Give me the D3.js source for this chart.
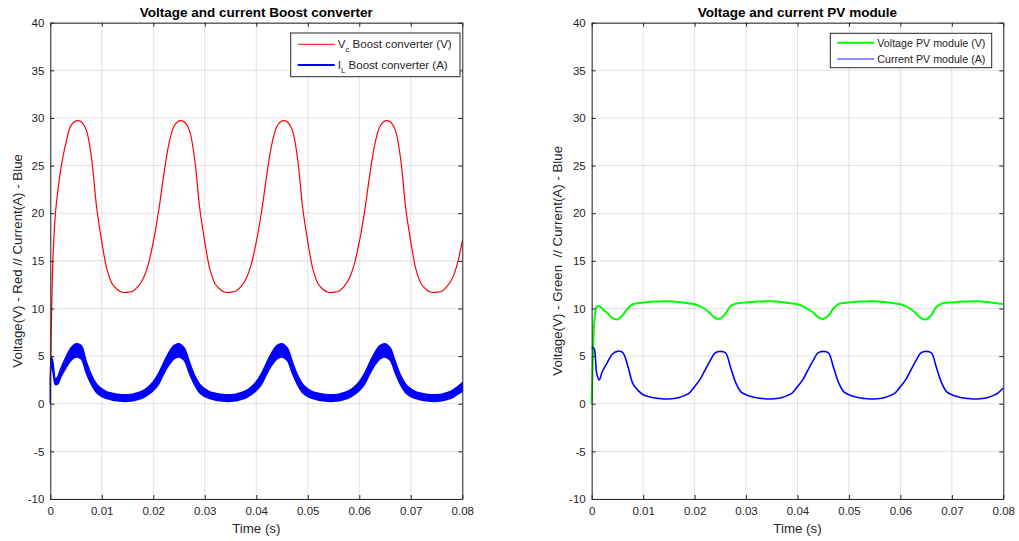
<!DOCTYPE html>
<html><head><meta charset="utf-8">
<script src="https://cdn.jsdelivr.net/npm/d3@7"></script>
<style>
body{margin:0;background:#fff;}
text{font-family:"Liberation Sans",Arial,Helvetica,sans-serif;}
</style></head><body>
<svg id="c" width="1019" height="541"></svg>
<script>
// ---- data ----
const time = [0,0.0002,0.0005,0.001,0.0015,0.002,0.003,0.004,0.005,0.006,0.007,0.008,0.009,
  0.010,0.011,0.012,0.013,0.014,0.015,0.016,0.017,0.018,0.019,
  0.020,0.021,0.022,0.023,0.024,0.025,0.026,0.027,0.028,0.029,
  0.030,0.031,0.032,0.033,0.034,0.035,0.036,0.037,0.038,0.039,
  0.040,0.041,0.042,0.043,0.044,0.045,0.046,0.047,0.048,0.049,
  0.050,0.051,0.052,0.053,0.054,0.055,0.056,0.057,0.058,0.059,
  0.060,0.061,0.062,0.063,0.064,0.065,0.066,0.067,0.068,0.069,
  0.070,0.071,0.072,0.073,0.074,0.075,0.076,0.077,0.078,0.079,
  0.080];

// Boost converter capacitor voltage Vc (V)
const vcBoost = [2,8,15,20,22.5,24.5,27.3,29.2,29.7,29.6,28.7,25.8,20.6,
  17.0,14.1,12.6,12.0,11.7,11.7,11.8,12.3,13.1,14.6,
  17.0,20.1,23.9,27.2,29.1,29.7,29.6,28.7,25.8,20.6,
  17.0,14.1,12.6,12.0,11.7,11.7,11.8,12.3,13.1,14.6,
  17.0,20.1,23.9,27.2,29.1,29.7,29.6,28.7,25.8,20.6,
  17.0,14.1,12.6,12.0,11.7,11.7,11.8,12.3,13.1,14.6,
  17.0,20.1,23.9,27.2,29.1,29.7,29.6,28.7,25.8,20.6,
  17.0,14.1,12.6,12.0,11.7,11.7,11.8,12.3,13.1,14.6,
  17.1];

// Boost converter inductor current IL (A), centre of the ripple band
const ilBoost = [0,4.4,3.9,2.3,2.5,3.2,4.3,5.2,5.6,5.4,3.8,2.5,1.6,
  1.15,0.9,0.75,0.65,0.6,0.6,0.65,0.8,1.0,1.35,
  1.85,2.6,3.7,4.7,5.4,5.6,5.2,3.8,2.5,1.6,
  1.15,0.9,0.75,0.65,0.6,0.6,0.65,0.8,1.0,1.35,
  1.85,2.6,3.7,4.7,5.4,5.6,5.2,3.8,2.5,1.6,
  1.15,0.9,0.75,0.65,0.6,0.6,0.65,0.8,1.0,1.35,
  1.85,2.6,3.7,4.7,5.4,5.6,5.2,3.8,2.5,1.6,
  1.15,0.9,0.75,0.65,0.6,0.6,0.65,0.8,1.0,1.35,
  1.75];

// Peak-to-peak switching ripple of IL (A)
const ilRipple = [0,1.0,1.0,0.6,0.8,0.9,1.1,1.3,1.4,1.4,1.2,1.0,0.9,
  0.8,0.7,0.7,0.7,0.7,0.7,0.7,0.7,0.75,0.8,
  0.9,1.1,1.2,1.3,1.4,1.4,1.3,1.2,1.0,0.9,
  0.8,0.7,0.7,0.7,0.7,0.7,0.7,0.7,0.75,0.8,
  0.9,1.1,1.2,1.3,1.4,1.4,1.3,1.2,1.0,0.9,
  0.8,0.7,0.7,0.7,0.7,0.7,0.7,0.7,0.75,0.8,
  0.9,1.1,1.2,1.3,1.4,1.4,1.3,1.2,1.0,0.9,
  0.8,0.7,0.7,0.7,0.7,0.7,0.7,0.7,0.75,0.8,
  0.9];

// PV module voltage (V)
const pvVoltage = [0,4,8.6,10.2,10.25,10.0,9.55,9.0,8.85,9.3,10.0,10.45,10.55,
  10.62,10.68,10.72,10.74,10.75,10.75,10.72,10.68,10.6,10.52,
  10.45,10.25,9.95,9.5,9.0,8.95,9.45,10.25,10.5,10.58,
  10.63,10.68,10.72,10.74,10.75,10.75,10.72,10.68,10.6,10.52,
  10.45,10.25,9.95,9.6,9.1,8.9,9.25,10.0,10.45,10.58,
  10.63,10.68,10.72,10.74,10.75,10.75,10.72,10.68,10.6,10.52,
  10.45,10.25,9.95,9.5,9.0,8.85,9.3,10.15,10.5,10.6,
  10.63,10.68,10.72,10.74,10.75,10.75,10.72,10.68,10.6,10.52,
  10.5];

// PV module current (A)
const pvCurrent = [5.9,5.9,5.75,3.1,2.5,3.3,4.3,5.2,5.5,5.4,4.0,2.1,1.4,
  0.95,0.75,0.62,0.55,0.5,0.5,0.55,0.65,0.85,1.15,
  1.8,2.5,3.5,4.5,5.35,5.5,5.35,3.8,2.2,1.25,
  0.95,0.75,0.62,0.55,0.5,0.5,0.55,0.65,0.85,1.15,
  1.8,2.5,3.5,4.5,5.35,5.5,5.35,3.8,2.2,1.25,
  0.95,0.75,0.62,0.55,0.5,0.5,0.55,0.65,0.85,1.15,
  1.8,2.5,3.5,4.5,5.35,5.5,5.35,3.8,2.2,1.25,
  0.95,0.75,0.62,0.55,0.5,0.5,0.55,0.65,0.85,1.15,
  1.65];

const xTicks = [0,0.01,0.02,0.03,0.04,0.05,0.06,0.07,0.08];
const xTickLabels = ["0","0.01","0.02","0.03","0.04","0.05","0.06","0.07","0.08"];
const yTicks = [-10,-5,0,5,10,15,20,25,30,35,40];
const yTickLabels = ["-10","-5","0","5","10","15","20","25","30","35","40"];

// ---- drawing ----
const svg = d3.select("#c");
svg.append("rect").attr("width",1019).attr("height",541).attr("fill","#fff");
const AX = "#262626";
const curve = d3.curveCatmullRom.alpha(0.5);

function panel(o){
  const x = d3.scaleLinear().domain([0,0.08]).range([o.x0,o.x1]);
  const y = d3.scaleLinear().domain([-10,40]).range([499,22.7]);
  const g = svg.append("g");
  // grid
  g.append("g").selectAll("line").data(xTicks).join("line")
    .attr("x1",d=>x(d)).attr("x2",d=>x(d)).attr("y1",y(-10)).attr("y2",y(40))
    .attr("stroke",AX).attr("stroke-opacity",0.13).attr("stroke-width",1);
  g.append("g").selectAll("line").data(yTicks).join("line")
    .attr("y1",d=>y(d)).attr("y2",d=>y(d)).attr("x1",x(0)).attr("x2",x(0.08))
    .attr("stroke",AX).attr("stroke-opacity",0.13).attr("stroke-width",1);
  const data = g.append("g");
  o.draw(data,x,y);
  // axes
  const fmtX = (d,i)=>xTickLabels[i], fmtY=(d,i)=>yTickLabels[i];
  const styleAxis = a => {
    a.select(".domain").attr("stroke",AX).attr("stroke-width",1);
    a.selectAll(".tick line").attr("stroke",AX);
    a.selectAll("text").attr("fill",AX).style("font-size","11.5px").style("font-family",'"Liberation Sans",Arial,sans-serif');
  };
  g.append("g").attr("transform",`translate(0,${y(-10)})`)
    .call(d3.axisBottom(x).tickValues(xTicks).tickFormat(fmtX).tickSizeInner(-4).tickSizeOuter(0).tickPadding(8))
    .call(styleAxis);
  g.append("g").attr("transform",`translate(0,${y(40)})`)
    .call(d3.axisTop(x).tickValues(xTicks).tickFormat("").tickSizeInner(-4).tickSizeOuter(0))
    .call(styleAxis);
  g.append("g").attr("transform",`translate(${x(0)},0)`)
    .call(d3.axisLeft(y).tickValues(yTicks).tickFormat(fmtY).tickSizeInner(-4).tickSizeOuter(0).tickPadding(6))
    .call(styleAxis);
  g.append("g").attr("transform",`translate(${x(0.08)},0)`)
    .call(d3.axisRight(y).tickValues(yTicks).tickFormat("").tickSizeInner(-4).tickSizeOuter(0))
    .call(styleAxis);
  // title
  g.append("text").attr("x",(x(0)+x(0.08))/2).attr("y",16.5).attr("text-anchor","middle")
    .style("font-size","13.5px").style("font-weight","bold").attr("fill","#000").text(o.title);
  // x label
  g.append("text").attr("x",(x(0)+x(0.08))/2).attr("y",533).attr("text-anchor","middle")
    .style("font-size","13.3px").attr("fill",AX).text("Time (s)");
  // y label
  g.append("text").attr("transform",`translate(${o.ylx},${(y(-10)+y(40))/2}) rotate(-90)`)
    .attr("text-anchor","middle").style("font-size","13.3px").attr("fill",AX).attr("xml:space","preserve").text(o.ylabel);
  // legend
  const lg = g.append("g");
  lg.append("rect").attr("x",o.lx).attr("y",o.ly).attr("width",o.lw).attr("height",o.lh)
    .attr("fill","#fff").attr("stroke",AX).attr("stroke-width",1);
  o.legend.forEach((e,i)=>{
    const yy = o.ly + o.lr0 + i*o.lrs;
    lg.append("line").attr("x1",o.lx+7).attr("x2",o.lx+44).attr("y1",yy).attr("y2",yy)
      .attr("stroke",e.color).attr("stroke-width",e.w).attr("stroke-opacity",e.op||1);
    const t = lg.append("text").attr("x",o.lx+47).attr("y",yy+o.lfs*0.36).style("font-size",o.lfs+"px").attr("fill",AX);
    t.append("tspan").text(e.main);
    if(e.sub){
      t.append("tspan").attr("dy",4).style("font-size",(o.lfs*0.7)+"px").text(e.sub);
      t.append("tspan").attr("dy",-4).text(e.rest);
    }
  });
}

const line = (x,y,vals)=>d3.line().x((d,i)=>x(time[i])).y((d,i)=>y(vals[i])).curve(curve)(vals);

panel({
  x0:50.3, x1:462.3, title:"Voltage and current Boost converter",
  ylabel:"Voltage(V) - Red // Current(A) - Blue", ylx:21.5,
  lx:290.7, ly:33, lw:169.3, lh:43.7, lr0:11.3, lrs:20.7, lfs:11.5,
  legend:[{color:"#ff0000",w:1,main:"V",sub:"c",rest:" Boost converter (V)"},
          {color:"#0000ff",w:2,main:"I",sub:"L",rest:" Boost converter (A)"}],
  draw:(g,x,y)=>{
    g.append("path").attr("d",line(x,y,vcBoost)).attr("fill","none").attr("stroke","#ff0000").attr("stroke-width",1.2);
    const area = d3.area().x((d,i)=>x(time[i]))
      .y0((d,i)=>y(ilBoost[i]-ilRipple[i]/2)).y1((d,i)=>y(ilBoost[i]+ilRipple[i]/2))
      .curve(curve);
    g.append("path").attr("d",area(ilBoost)).attr("fill","#0000ff").attr("stroke","#0000ff").attr("stroke-width",1.5);
  }
});

panel({
  x0:591.7, x1:1003.3, title:"Voltage and current PV module",
  ylabel:"Voltage(V) - Green  // Current(A) - Blue", ylx:561.5,
  lx:830.3, ly:33.3, lw:161.4, lh:34.4, lr0:9.4, lrs:16.3, lfs:10.7,
  legend:[{color:"#00ff00",w:2,main:"Voltage PV module (V)"},
          {color:"#0000ff",w:1.5,op:0.6,main:"Current PV module (A)"}],
  draw:(g,x,y)=>{
    g.append("path").attr("d",line(x,y,pvVoltage)).attr("fill","none").attr("stroke","#00ff00").attr("stroke-width",2);
    g.append("path").attr("d",line(x,y,pvCurrent)).attr("fill","none").attr("stroke","#0000ff").attr("stroke-width",1.6);
  }
});
</script>
</body></html>
